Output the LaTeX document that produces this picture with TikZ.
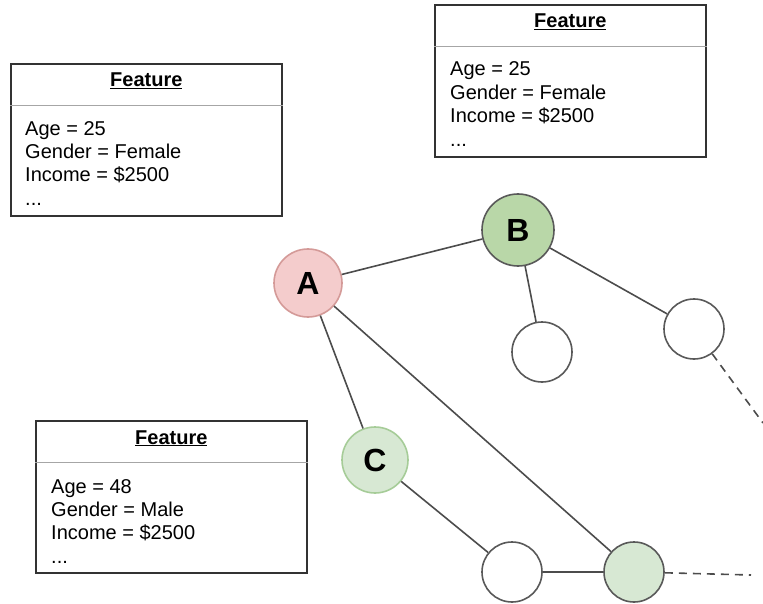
\documentclass[tikz,border=0pt]{standalone}
\usepackage{fontspec}
\setmainfont{Liberation Sans}
\begin{document}
\begin{tikzpicture}[x=1pt,y=-1pt,
  featbox/.style={draw=black!80, line width=1.6pt, minimum width=271pt, minimum height=152pt, inner sep=0pt},
  sepline/.style={draw=black!35, line width=1pt},
  title/.style={font=\fontsize{20}{24}\selectfont\bfseries, anchor=base, inner sep=0pt},
  attr/.style={font=\fontsize{20}{24}\selectfont, anchor=base west, inner sep=0pt},
  vertex/.style={circle, draw=black!65, line width=1.6pt, minimum size=60pt, inner sep=0pt, fill=white},
  letter/.style={font=\fontsize{32}{36}\selectfont\bfseries},
  edge/.style={draw=black!70, line width=1.6pt},
  dashedge/.style={draw=black!70, line width=1.6pt, dash pattern=on 8pt off 6pt}
]
\useasboundingbox (0,0) rectangle (763,604);

% feature boxes
\node[featbox, anchor=north west] (f1) at (434,4) {};
\draw[sepline] (f1.west |- 0,47) -- (f1.east |- 0,47);
\node[title] (f1t) at (f1.north |- 0,28) {\underline{Feature}};
\node[attr] (f1a) at (450,76) {Age = 25};
\node[attr] (f1b) at (450,100) {Gender = Female};
\node[attr] (f1c) at (450,123) {Income = \$2500};
\node[attr] (f1d) at (450,147) {...};

\node[featbox, anchor=north west] (f2) at (10,63) {};
\draw[sepline] (f2.west |- 0,106) -- (f2.east |- 0,106);
\node[title] (f2t) at (f2.north |- 0,87) {\underline{Feature}};
\node[attr] (f2a) at (25,136) {Age = 25};
\node[attr] (f2b) at (25,159) {Gender = Female};
\node[attr] (f2c) at (25,182) {Income = \$2500};
\node[attr] (f2d) at (25,206) {...};

\node[featbox, anchor=north west] (f3) at (35,420) {};
\draw[sepline] (f3.west |- 0,462) -- (f3.east |- 0,462);
\node[title] (f3t) at (f3.north |- 0,444) {\underline{Feature}};
\node[attr] (f3a) at (51,493) {Age = 48};
\node[attr] (f3b) at (51,516) {Gender = Male};
\node[attr] (f3c) at (51,539) {Income = \$2500};
\node[attr] (f3d) at (51,563) {...};

% graph vertices
\definecolor{redfill}{HTML}{F4CCCC}
\definecolor{redline}{HTML}{D49A98}
\definecolor{greenfill}{HTML}{B9D7A8}
\definecolor{palegreen}{HTML}{D7E8D3}
\definecolor{greenline}{HTML}{A6CC98}

\node[vertex, fill=redfill, draw=redline, minimum size=68pt, letter] (A) at (308,283) {A};
\node[vertex, fill=greenfill, minimum size=72pt, letter] (B) at (518,230) {B};
\node[vertex, fill=palegreen, draw=greenline, minimum size=66pt, letter] (C) at (375,460) {C};
\node[vertex] (D) at (542,352) {};
\node[vertex] (E) at (694,329) {};
\node[vertex] (F) at (512,572) {};
\node[vertex, fill=palegreen] (G) at (634,572) {};

\coordinate (e1) at (763,423);
\coordinate (e2) at (751,575);

% connections
\draw[edge] (A) -- (B);
\draw[edge] (B) -- (D);
\draw[edge] (B) -- (E);
\draw[edge] (A) -- (C);
\draw[edge] (A) -- (G);
\draw[edge] (C) -- (F);
\draw[edge] (F) -- (G);
\draw[dashedge] (E) -- (e1);
\draw[dashedge] (G) -- (e2);
\end{tikzpicture}
\end{document}
